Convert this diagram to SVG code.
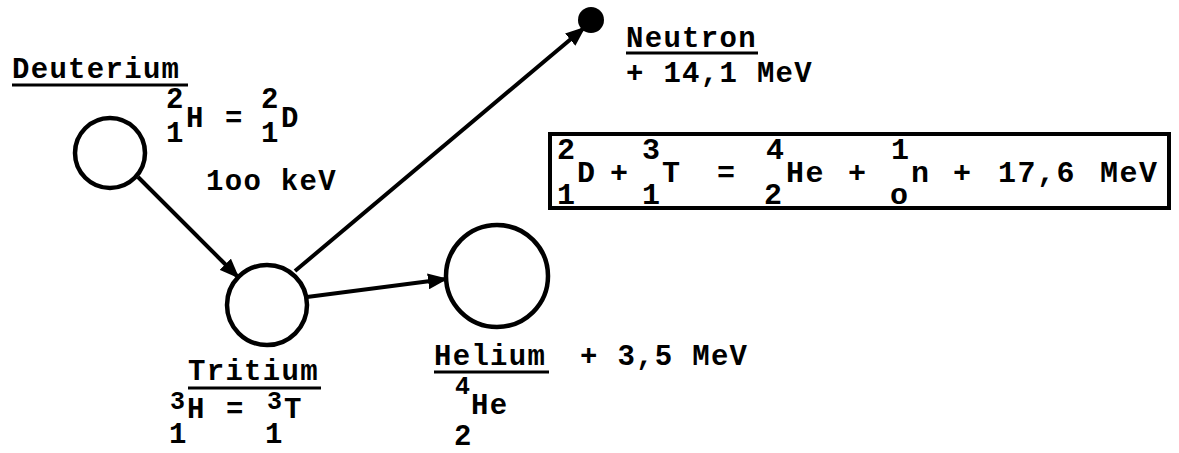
<svg xmlns="http://www.w3.org/2000/svg" width="1179" height="453" viewBox="0 0 1179 453">
<style>
  .t { font-family: "Liberation Mono", "DejaVu Sans Mono", monospace; font-size: 29px; font-weight: bold; fill: #000; letter-spacing: 1.3px; }
  .s { font-size: 25px; }
  .e { font-family: "Liberation Mono", "DejaVu Sans Mono", monospace; font-size: 30px; font-weight: bold; fill: #000; letter-spacing: 1.5px; }
  .node { fill: #fff; stroke: #000; stroke-width: 4.5; }
  .ul { stroke: #000; stroke-width: 3; }
  .conn { stroke: #000; stroke-width: 4; fill: none; }
</style>
<defs>
  <marker id="ah" markerWidth="5" markerHeight="4" refX="4.5" refY="2" orient="auto" markerUnits="strokeWidth">
    <path d="M0,0 L5,2 L0,4 Z" fill="#000"/>
  </marker>
</defs>
<rect width="1179" height="453" fill="#fff"/>

<g id="connectors">
  <line class="conn" x1="138" y1="177" x2="238" y2="277" marker-end="url(#ah)"/>
  <line class="conn" x1="307" y1="297" x2="446" y2="279" marker-end="url(#ah)"/>
  <line class="conn" x1="295" y1="271" x2="584" y2="28" marker-end="url(#ah)"/>
</g>

<g id="deuterium">
  <circle class="node" cx="110" cy="153" r="35"/>
  <text class="t" x="12" y="78">Deuterium</text>
  <line class="ul" x1="12" y1="85" x2="188" y2="85"/>
  <text class="t" x="166" y="108">2</text>
  <text class="t" x="166" y="142">1</text>
  <text class="t" x="186" y="127">H</text>
  <text class="t" x="225" y="127">=</text>
  <text class="t" x="261" y="108">2</text>
  <text class="t" x="261" y="142">1</text>
  <text class="t" x="281" y="127">D</text>
  <text class="t" x="206" y="190">1oo keV</text>
</g>

<g id="tritium">
  <circle class="node" cx="267" cy="305" r="40"/>
  <text class="t" x="188" y="380">Tritium</text>
  <line class="ul" x1="188" y1="388" x2="321" y2="388"/>
  <text class="t s" x="170" y="409">3</text>
  <text class="t" x="169" y="443">1</text>
  <text class="t" x="187" y="418">H</text>
  <text class="t" x="226" y="418">=</text>
  <text class="t s" x="267" y="409">3</text>
  <text class="t" x="265" y="443">1</text>
  <text class="t" x="284" y="418">T</text>
</g>

<g id="helium">
  <circle class="node" cx="497" cy="276" r="51"/>
  <text class="t" x="434" y="365">Helium</text>
  <line class="ul" x1="434" y1="372" x2="549" y2="372"/>
  <text class="t" x="580" y="365">+ 3,5 MeV</text>
  <text class="t s" x="455" y="394">4</text>
  <text class="t" x="471" y="414">He</text>
  <text class="t" x="454" y="445">2</text>
</g>

<g id="neutron">
  <circle cx="591" cy="20" r="13" fill="#000"/>
  <text class="t" x="626" y="47">Neutron</text>
  <line class="ul" x1="626" y1="53" x2="758" y2="53"/>
  <text class="t" x="626" y="82">+ 14,1 MeV</text>
</g>

<g id="equation">
  <rect x="550" y="134" width="619" height="74" fill="none" stroke="#000" stroke-width="4"/>
  <text class="e" x="557" y="159">2</text>
  <text class="e" x="557" y="204">1</text>
  <text class="e" x="577" y="182">D</text>
  <text class="e" x="610" y="182">+</text>
  <text class="e" x="642" y="159">3</text>
  <text class="e" x="642" y="204">1</text>
  <text class="e" x="662" y="182">T</text>
  <text class="e" x="717" y="182">=</text>
  <text class="e" x="766" y="159">4</text>
  <text class="e" x="764" y="204">2</text>
  <text class="e" x="786" y="182">He</text>
  <text class="e" x="848" y="182">+</text>
  <text class="e" x="891" y="159">1</text>
  <text class="e" x="890" y="204">o</text>
  <text class="e" x="911" y="182">n</text>
  <text class="e" x="953" y="182">+</text>
  <text class="e" x="998" y="182">17,6</text>
  <text class="e" x="1100" y="182">MeV</text>
</g>
</svg>
